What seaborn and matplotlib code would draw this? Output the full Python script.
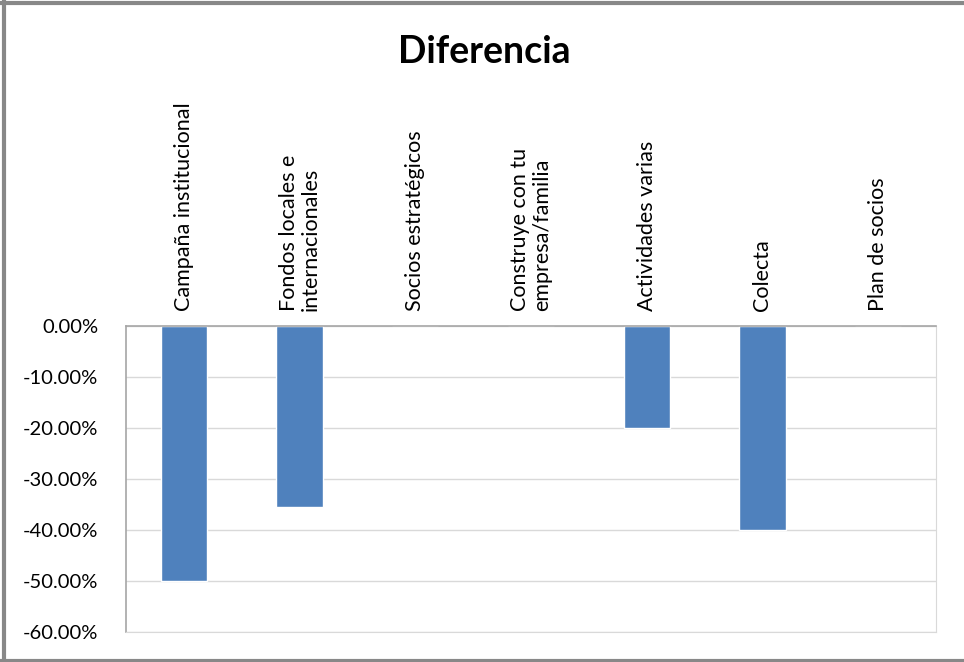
import matplotlib.pyplot as plt
import matplotlib.lines as mlines
import pandas as pd
import seaborn as sns
from matplotlib.ticker import FuncFormatter

# Datos del gráfico
categorias = [
    "Campaña institucional",
    "Fondos locales e\ninternacionales",
    "Socios estratégicos",
    "Construye con tu\nempresa/familia",
    "Actividades varias",
    "Colecta",
    "Plan de socios",
]
diferencia = [-0.50, -0.355, 0.0, 0.0, -0.20, -0.40, 0.0]

df = pd.DataFrame({"categoria": categorias, "diferencia": diferencia})

sns.set_style("white")
plt.rcParams["font.family"] = ["Lato", "DejaVu Sans"]
plt.rcParams["text.color"] = "black"
plt.rcParams["xtick.color"] = "black"
plt.rcParams["ytick.color"] = "black"

fig = plt.figure(figsize=(9.64, 6.62), dpi=100)
ax = fig.add_axes([126 / 964, 1 - 632 / 662, 810 / 964, 306 / 662])

sns.barplot(data=df, x="categoria", y="diferencia", color="#4f81bd",
            width=0.4, saturation=1, ax=ax)

ax.set_ylim(-0.60, 0)
ax.set_yticks([0, -0.1, -0.2, -0.3, -0.4, -0.5, -0.6])
ax.yaxis.set_major_formatter(FuncFormatter(lambda v, p: f"{v * 100:.2f}%"))
ax.grid(axis="y", color="#d9d9d9", linewidth=1)
ax.set_axisbelow(True)

# etiquetas de categoría arriba, en vertical
ax.xaxis.tick_top()
ax.tick_params(axis="x", length=0, pad=11, labelsize=15.5)
ax.tick_params(axis="y", length=0, pad=20, labelsize=14.5)
plt.setp(ax.get_xticklabels(), rotation=90, va="bottom", ha="center",
         multialignment="left", linespacing=1.1)
ax.set_xlabel("")
ax.set_ylabel("")

for s in ["left", "top"]:
    ax.spines[s].set_color("#a6a6a6")
    ax.spines[s].set_linewidth(1.2)
ax.spines["right"].set_color("#d9d9d9")
ax.spines["bottom"].set_color("#d9d9d9")

fig.text(0.502, 0.922, "Diferencia", ha="center", va="center",
         fontsize=27, fontweight="bold")

# borde del área del gráfico
borde = dict(color="#888888", linewidth=3, transform=fig.transFigure)
fig.add_artist(mlines.Line2D([3.5 / 964, 3.5 / 964], [0, 1], **borde))
fig.add_artist(mlines.Line2D([0, 1], [1 - 3 / 662, 1 - 3 / 662], **borde))
fig.add_artist(mlines.Line2D([0, 1], [1.5 / 662, 1.5 / 662], **borde))

plt.savefig("out.png", dpi=100)
